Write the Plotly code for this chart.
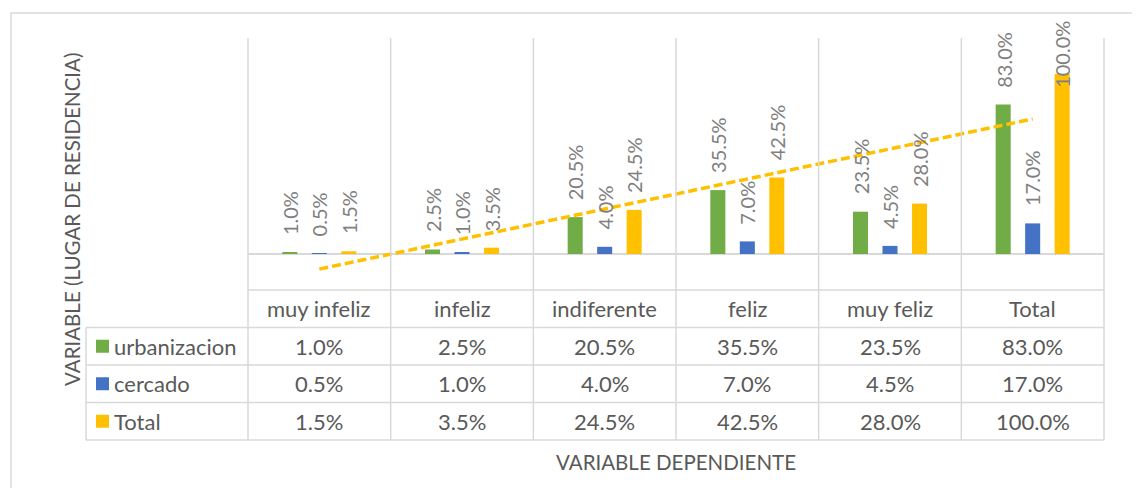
import numpy as np
import plotly.graph_objects as go

# datos
categorias = ["muy infeliz", "infeliz", "indiferente", "feliz", "muy feliz", "Total"]
series = ["urbanizacion", "cercado", "Total"]
urbanizacion = [1.0, 2.5, 20.5, 35.5, 23.5, 83.0]
cercado = [0.5, 1.0, 4.0, 7.0, 4.5, 17.0]
total = [1.5, 3.5, 24.5, 42.5, 28.0, 100.0]
colores = ["#70AD47", "#4472C4", "#FFC000"]

valores = [urbanizacion, cercado, total]

# la pagina html deja 8px de margen en el body
OFS = 8
W, H = 1140 - OFS, 496 - 2 * OFS
L, T = 248 - OFS, 38 - OFS
PW, PH = 856, 252
R, B = W - L - PW, H - T - PH
Y_MIN, Y_MAX = -0.2, 1.2
BARGAP, GROUPGAP = 0.38, 0.49
FONT = "Lato"
GRIS = "#595959"
LINEA = "#D9D9D9"
TAM = 22


def px_x(px):
    # px en coordenadas de la imagen de referencia
    return (px - OFS - L) / PW


def px_y(py):
    return (T + PH - (py - OFS)) / PH


fig = go.Figure()
x = np.arange(len(categorias))
for nombre, vals, color in zip(series, valores, colores):
    fig.add_trace(go.Bar(x=x, y=[v / 100 for v in vals], name=nombre,
                         marker=dict(color=color, line=dict(width=0))))

# linea de tendencia (lineal) sobre la serie Total
m, b = np.polyfit(x + 1, np.array(total) / 100, 1)
fig.add_trace(go.Scatter(x=[x[0], x[-1]], y=[m * (x[0] + 1) + b, m * (x[-1] + 1) + b],
                         mode="lines", line=dict(color="#FFC000", width=3.5, dash="9px,4px"),
                         hoverinfo="skip"))

anotaciones = []
formas = []

# etiquetas de datos sobre las barras
slot = (1 - BARGAP) / len(series)
unidad_px = PH / (Y_MAX - Y_MIN)
tope = Y_MAX + 9 / unidad_px
for k, vals in enumerate(valores):
    off = (k - (len(series) - 1) / 2) * slot
    for i, v in enumerate(vals):
        txt = f"{v:.1f}%"
        base = v / 100 + 15 / unidad_px
        largo = len(txt) * 10.2 / unidad_px
        if base + largo > tope:
            base = tope - largo
        anotaciones.append(dict(x=i + off, y=base, xref="x", yref="y", text=txt,
                                textangle=-90, showarrow=False, xanchor="center", yanchor="bottom",
                                font=dict(family=FONT, size=20, color="#7F7F7F")))

# tabla de datos
fila_h = 37.5
fondo_px = 290
filas_px = [fondo_px + fila_h * j for j in range(5)]
for i, c in enumerate(categorias):
    anotaciones.append(dict(x=i, y=px_y(fondo_px + fila_h / 2), xref="x", yref="paper", text=c,
                            showarrow=False, xanchor="center", yanchor="middle",
                            font=dict(family=FONT, size=TAM, color=GRIS)))
for k, (nombre, vals, color) in enumerate(zip(series, valores, colores)):
    yc = fondo_px + fila_h * (k + 1.5)
    for i, v in enumerate(vals):
        anotaciones.append(dict(x=i, y=px_y(yc), xref="x", yref="paper", text=f"{v:.1f}%",
                                showarrow=False, xanchor="center", yanchor="middle",
                                font=dict(family=FONT, size=TAM, color=GRIS)))
    formas.append(dict(type="rect", xref="paper", yref="paper", x0=px_x(96), x1=px_x(109),
                       y0=px_y(yc + 6.5), y1=px_y(yc - 6.5), fillcolor=color, line=dict(width=0)))
    anotaciones.append(dict(x=px_x(112), y=px_y(yc), xref="paper", yref="paper", text=nombre,
                            xanchor="left", yanchor="middle", showarrow=False,
                            font=dict(family=FONT, size=TAM, color=GRIS)))

# lineas de la tabla
izq = px_x(86)
for j, py in enumerate(filas_px):
    formas.append(dict(type="line", xref="paper", yref="paper", x0=0 if j == 0 else izq, x1=1,
                       y0=px_y(py), y1=px_y(py), line=dict(color=LINEA, width=1.5)))
for i in range(len(categorias) + 1):
    formas.append(dict(type="line", xref="paper", yref="paper", x0=i / len(categorias), x1=i / len(categorias),
                       y0=1, y1=px_y(filas_px[-1]), line=dict(color=LINEA, width=1.5)))
formas.append(dict(type="line", xref="paper", yref="paper", x0=izq, x1=izq,
                   y0=px_y(filas_px[1]), y1=px_y(filas_px[-1]), line=dict(color=LINEA, width=1.5)))

# borde del area del grafico
formas.append(dict(type="rect", xref="paper", yref="paper", x0=px_x(11), x1=px_x(1170),
                   y0=px_y(530), y1=px_y(13), line=dict(color=LINEA, width=1.5)))

# titulos de ejes
anotaciones.append(dict(x=px_x(72), y=px_y(220), xref="paper", yref="paper", text="VARIABLE (LUGAR DE RESIDENCIA)",
                        textangle=-90, showarrow=False, xanchor="center", yanchor="middle",
                        font=dict(family=FONT, size=20.5, color=GRIS)))
anotaciones.append(dict(x=0.5, y=px_y(462), xref="paper", yref="paper", text="VARIABLE DEPENDIENTE",
                        showarrow=False, xanchor="center", yanchor="middle",
                        font=dict(family=FONT, size=20.5, color=GRIS)))

fig.update_layout(
    width=W, height=H, margin=dict(l=L, r=R, t=T, b=B),
    barmode="group", bargap=BARGAP, bargroupgap=GROUPGAP,
    plot_bgcolor="white", paper_bgcolor="white", showlegend=False,
    annotations=anotaciones, shapes=formas,
    font=dict(family=FONT, color=GRIS),
)
fig.update_xaxes(range=[-0.5, len(categorias) - 0.5], showticklabels=False, showgrid=False,
                 zeroline=False, ticks="")
fig.update_yaxes(range=[Y_MIN, Y_MAX], showticklabels=False, showgrid=False,
                 zeroline=True, zerolinecolor=LINEA, zerolinewidth=1.5, ticks="")

fig.write_html("out.html")
